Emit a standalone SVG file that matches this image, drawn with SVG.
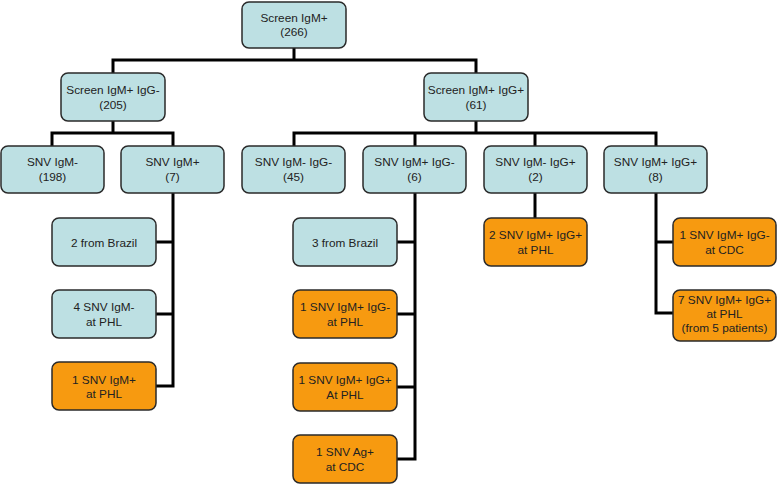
<svg xmlns="http://www.w3.org/2000/svg" width="777" height="484" viewBox="0 0 777 484">
<style>
.b rect{fill:#bde0e3;stroke:#2a2a2a;stroke-width:1.5}
.o rect{fill:#f79a10;stroke:#2a2a2a;stroke-width:1.5}
text{font-family:"Liberation Sans",Arial,sans-serif;font-size:11.8px;fill:#222;text-anchor:middle}
#connectors path{fill:none;stroke:#000;stroke-width:3}
</style>
<rect width="777" height="484" fill="#fff"/>
<g id="connectors">
<path d="M294 48V60M113 73V60H476V73"/>
<path d="M113 121V133M52 146V133H173V146"/>
<path d="M476 121V133M294 146V133H656V146M415 133V146M535 133V146"/>
<path d="M173 193V386M156 242H173M156 314H173M156 386H174.5"/>
<path d="M415 193V459M397 242H415M397 314H415M397 387H415M397 459H416.5"/>
<path d="M535 193V218"/>
<path d="M656 193V313M656 242H673M654.5 313H673"/>
</g>
<g id="n-root" class="b"><rect x="242" y="2" width="104" height="46" rx="7"/><text x="294" y="21.5">Screen IgM+</text><text x="294" y="36">(266)</text></g>
<g id="n-igg-neg" class="b"><rect x="61" y="73" width="104" height="48" rx="7"/><text x="113" y="94">Screen IgM+ IgG-</text><text x="113" y="108.5">(205)</text></g>
<g id="n-igg-pos" class="b"><rect x="424" y="73" width="104" height="48" rx="7"/><text x="476" y="94">Screen IgM+ IgG+</text><text x="476" y="108.5">(61)</text></g>
<g id="n-snv-igm-neg" class="b"><rect x="1" y="146" width="103" height="47" rx="7"/><text x="52.5" y="166">SNV IgM-</text><text x="52.5" y="180.5">(198)</text></g>
<g id="n-snv-igm-pos" class="b"><rect x="121" y="146" width="103" height="47" rx="7"/><text x="172.5" y="166">SNV IgM+</text><text x="172.5" y="180.5">(7)</text></g>
<g id="n-snv-mn-gn" class="b"><rect x="242" y="146" width="103" height="47" rx="7"/><text x="293.5" y="166">SNV IgM- IgG-</text><text x="293.5" y="180.5">(45)</text></g>
<g id="n-snv-mp-gn" class="b"><rect x="363" y="146" width="103" height="47" rx="7"/><text x="414.5" y="166">SNV IgM+ IgG-</text><text x="414.5" y="180.5">(6)</text></g>
<g id="n-snv-mn-gp" class="b"><rect x="484" y="146" width="103" height="47" rx="7"/><text x="535.5" y="166">SNV IgM- IgG+</text><text x="535.5" y="180.5">(2)</text></g>
<g id="n-snv-mp-gp" class="b"><rect x="604" y="146" width="103" height="47" rx="7"/><text x="655.5" y="166">SNV IgM+ IgG+</text><text x="655.5" y="180.5">(8)</text></g>
<g id="n-2-brazil" class="b"><rect x="52" y="218" width="104" height="48" rx="7"/><text x="104" y="246.5">2 from Brazil</text></g>
<g id="n-4-phl" class="b"><rect x="52" y="290" width="104" height="48" rx="7"/><text x="104" y="311">4 SNV IgM-</text><text x="104" y="325.5">at PHL</text></g>
<g id="n-1-phl" class="o"><rect x="52" y="362" width="104" height="48" rx="7"/><text x="104" y="383.5">1 SNV IgM+</text><text x="104" y="398">at PHL</text></g>
<g id="n-3-brazil" class="b"><rect x="293" y="218" width="104" height="48" rx="7"/><text x="345" y="246.5">3 from Brazil</text></g>
<g id="n-1-mpgn-phl" class="o"><rect x="293" y="290" width="104" height="48" rx="7"/><text x="345" y="311">1 SNV IgM+ IgG-</text><text x="345" y="325.5">at PHL</text></g>
<g id="n-1-mpgp-phl" class="o"><rect x="293" y="363" width="104" height="48" rx="7"/><text x="345" y="384">1 SNV IgM+ IgG+</text><text x="345" y="398.5">At PHL</text></g>
<g id="n-1-ag-cdc" class="o"><rect x="293" y="435" width="104" height="48" rx="7"/><text x="345" y="456">1 SNV Ag+</text><text x="345" y="470.5">at CDC</text></g>
<g id="n-2-phl" class="o"><rect x="484" y="218" width="103" height="48" rx="7"/><text x="535.5" y="239">2 SNV IgM+ IgG+</text><text x="535.5" y="253.5">at PHL</text></g>
<g id="n-1-cdc" class="o"><rect x="673" y="218" width="103" height="48" rx="7"/><text x="724.5" y="239">1 SNV IgM+ IgG-</text><text x="724.5" y="253.5">at CDC</text></g>
<g id="n-7-phl" class="o"><rect x="673" y="290" width="103" height="51" rx="7"/><text x="724.5" y="303.5">7 SNV IgM+ IgG+</text><text x="724.5" y="317.5">at PHL</text><text x="724.5" y="331.5">(from 5 patients)</text></g>
</svg>
